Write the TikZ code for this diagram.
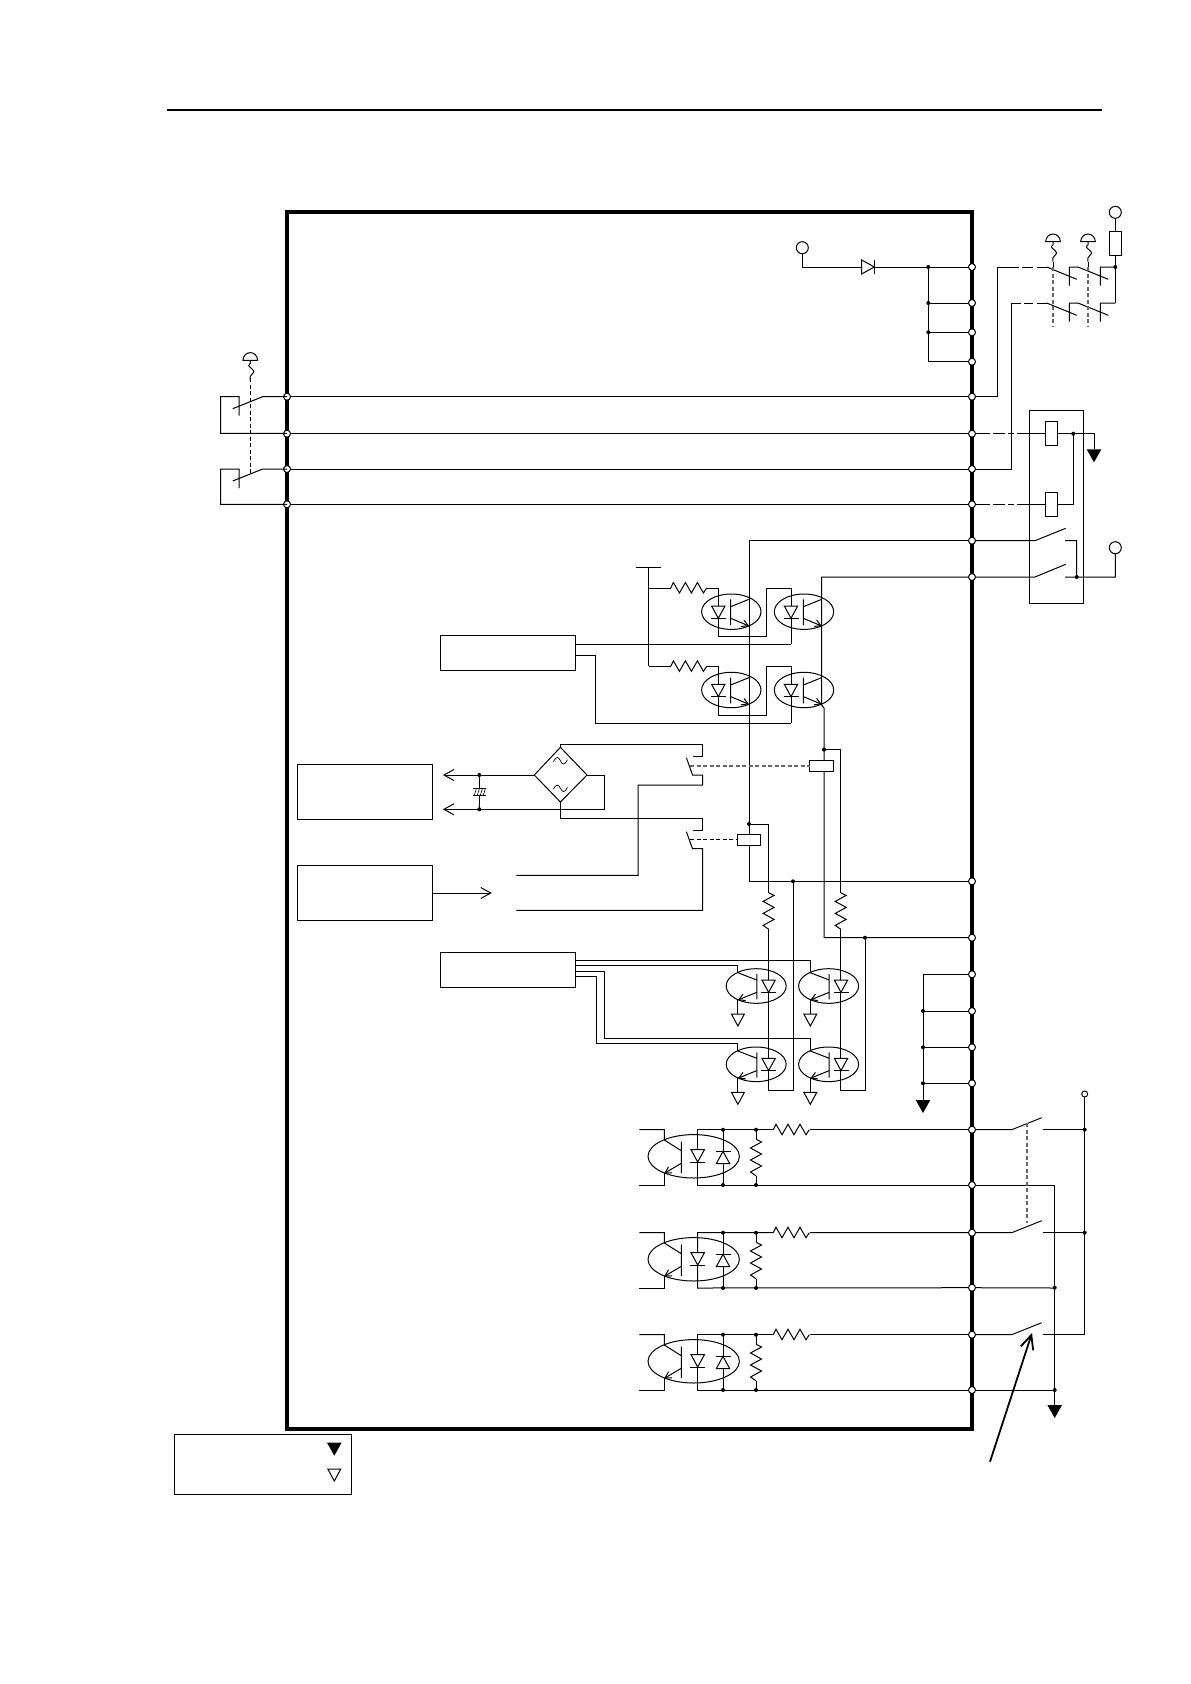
\documentclass[tikz,border=0pt]{standalone}
\usetikzlibrary{arrows.meta}
\tikzset{
	term/.style={circle,draw,fill=white,inner sep=0pt,minimum size=7pt,line width=1pt},
	port/.style={circle,draw,fill=white,inner sep=0pt,minimum size=12pt},
	block/.style={draw,inner sep=0pt},
	arw/.style={-{Straight Barb[length=10pt,width=11pt]}},
	emit/.style={-{Straight Barb[length=6pt,width=7pt]}},
	link/.style={dashed,dash pattern=on 4pt off 2.5pt,line width=1.1pt,black!60},
	hres/.pic={\draw (0,0)--(2.7,-5.5)--(8.7,5)--(14.7,-5.5)--(20.7,5)--(26.7,-5.5)--(32.7,5)--(36,0);},
	vres/.pic={\draw (0,0)--(5.5,2.7)--(-5.5,8.7)--(5.5,14.7)--(-5.5,20.7)--(5.5,26.7)--(-5.5,32.7)--(0,36.5);},
	diod/.pic={\draw[fill=white] (-6.7,0)--(6.7,0)--(0,12.3)--cycle; \draw (-7.5,12.3)--(7.5,12.3);},
	diou/.pic={\draw[fill=white] (-6.7,12.3)--(6.7,12.3)--(0,0)--cycle; \draw (-7.5,0)--(7.5,0);},
	knob/.pic={\draw (-7.3,0) arc (180:360:7.3 and 7.7) -- cycle;
		\draw[smooth] plot coordinates {(0,0) (0,3) (-1.5,5.5) (3.5,11) (0,16) (0,20)};},
	wave/.pic={\draw[line width=0.7pt] (-7,1) .. controls (-4,-5) and (-2,-4) .. (0,0) .. controls (2,4) and (4,5) .. (7,-1);},
	gnd/.pic={\draw[fill=white] (-6.5,0)--(6.5,0)--(0,12)--cycle;},
	gndf/.pic={\fill (-7.3,0)--(7.3,0)--(0,13)--cycle;}
}
\begin{document}
\begin{tikzpicture}[x=1pt,y=-1pt,line width=1pt]
	\useasboundingbox (0,0) rectangle (1191,1684);
	\draw[line width=1.8pt] (167,110)--(1102,110);
	\draw[line width=4pt] (287,212) rectangle (972,1429);
	%terminals on both sides of the frame
	\foreach \n/\y in {1/267,2/303,3/332.3,4/361.7,5/396.7,6/433.7,7/469,8/504.3,9/540.7,10/577,11/881.3,12/937.7,13/974.3,14/1011,15/1047.3,16/1083.3,17/1129.7,18/1185,19/1232.7,20/1287.7,21/1334.7,22/1390}
	\node[term] (r\n) at (972,\y) {};
	\foreach \n/\y in {1/396.7,2/433.7,3/469,4/504.3}
	\node[term] (l\n) at (287,\y) {};
	\foreach \a/\b in {1/5,2/6,3/7,4/8}
	\draw (l\a)--(r\b);
	%supply and series switches
	\node[port] (vcc) at (802.3,247.7) {};
	\draw (vcc)--(802.3,267)--(861.7,267);
	\draw[fill=white] (861.7,260)--(874.3,267)--(861.7,274)--cycle;
	\draw (874.3,260)--(874.3,274) (874.3,267)--(r1);
	\draw (928.3,267)--(928.3,361.7)--(r4);
	\draw (928.3,303)--(r2) (928.3,332.3)--(r3);
	\foreach \x/\y in {928.3/267,928.3/303,928.3/332.3,1115.3/267,1073.3/433.7,1076.7/577,793/881.3,865/937.7,923/1011,923/1047.3,923/1083.3,749/824,824/749.7,479.3/775,479.3/809.3,1084.7/1129.7,1084.7/1232.7,1054.7/1287.7,1054.7/1390}
	\fill (\x,\y) circle (2);
	\draw (r5)--(997,396.7)--(997,267)--(1019,267) (1021.5,267)--(1033,267) (1037,267)--(1046.7,267);
	\draw (r7)--(1011.7,469)--(1011.7,303)--(1021,303) (1024,303)--(1033,303) (1037,303)--(1046.7,303);
	\foreach \y in {267,303}
	\draw[shift={(0,\y)}] (1046.7,0)--(1076.7,12.3) (1069.3,18.7)--(1069.3,0)--(1078,0)--(1108.3,12.3) (1100.3,18.7)--(1100.3,0)--(1115.3,0);
	\foreach \x in {1053,1088} {
		\pic at (\x,241.7) {knob};
		\draw (\x,261.7)--(\x,267);
		\draw[link] (\x,267)--(\x,326);
	}
	\node[port] (vtop) at (1115.3,212.3) {};
	\draw[fill=white] (1109.5,231.7) rectangle (1121.3,255);
	\draw (vtop)--(1115.3,231.7) (1115.3,255)--(1115.3,303);
	%relay unit
	\draw (1029.3,410.7) rectangle (1083.7,603.7);
	\draw (1045.7,421.3) rectangle (1057.3,445);
	\draw (1045.7,492.3) rectangle (1057.3,516.3);
	\draw (r6)--(990,433.7) (993,433.7)--(1005,433.7) (1008,433.7)--(1014,433.7) (1017,433.7)--(1045.7,433.7);
	\draw (r8)--(990,504.3) (993,504.3)--(1005,504.3) (1008,504.3)--(1014,504.3) (1017,504.3)--(1045.7,504.3);
	\draw (1057.3,433.7)--(1094,433.7)--(1094,449.3);
	\draw (1057.3,504.3)--(1073.3,504.3)--(1073.3,433.7);
	\pic at (1094,449.3) {gndf};
	\draw (r9)--(1035,540.7)--(1065.7,528.3) (1065,540.7)--(1076.7,540.7)--(1076.7,577);
	\node[port] (vrel) at (1115.3,547.7) {};
	\draw (r10)--(1035,577)--(1065.7,564.3) (1065,577)--(1115.3,577)--(vrel);
	%switch on the left
	\pic at (250.3,360.3) {knob};
	\draw[dashed,dash pattern=on 4pt off 2.5pt] (250.3,378)--(250.3,474);
	\foreach \y/\b in {396.7/36.7,469/35.3}
	\draw[shift={(0,\y)}] (287,0)--(262.7,0)--(232.7,12) (239,19)--(239,0)--(220.7,0)--(220.7,\b)--(287,\b);
	%upper couplers and drive block
	\node[block,minimum width=134.6pt,minimum height=34.3pt] (drva) at (508,652.85) {};
	\draw (648.7,567)--(648.7,666.3) (636,567)--(661,567);
	\foreach \y/\b/\s in {588/644.3/636.3,666.3/723/715.3} {
		\draw (648.7,\y)--(670.7,\y) (706.7,\y)--(718.3,\y)--(718.3,\s)--(766.7,\s)--(766.7,\y)--(791,\y)--(791,\b);
		\pic at (670.7,\y) {hres};
	}
	\draw (drva.east |- 0,644.3)--(791,644.3);
	\draw (drva.east |- 0,655.7)--(595.7,655.7)--(595.7,723)--(791,723);
	\foreach \x/\y in {718.3/588,791/588,718.3/666.3,791/666.3} {
		\begin{scope}[shift={(\x,\y)}]
			\pic at (0,18) {diod};
			\draw (13,23.7) ellipse [x radius=29.7,y radius=17.7];
			\draw (12.4,11.3)--(12.4,37) (12.4,18.7)--(30.7,11.3);
			\draw[emit] (12.4,30.3)--(30.7,38);
		\end{scope}
	}
	%main wires through the couplers and coils
	\draw (r9)--(749,540.7)--(749,881.3)--(r11);
	\draw (r10)--(821.7,577)--(821.7,705)--(824,708)--(824,937.7)--(r12);
	\draw (749,824)--(768.6,824)--(768.6,892.7) (768.6,929.3)--(768.6,1090)--(793,1090)--(793,881.3);
	\draw (824,749.7)--(840.7,749.7)--(840.7,892.7) (840.7,929.3)--(840.7,1090)--(865,1090)--(865,937.7);
	\pic at (768.6,892.7) {vres};
	\pic at (840.7,892.7) {vres};
	\draw[fill=white] (737.3,834) rectangle (760.7,845.3);
	\draw[fill=white] (809.6,760.3) rectangle (833.6,771.7);
	\draw[link] (690,766)--(809.6,766);
	\draw[dashed,dash pattern=on 4pt off 2.5pt] (690,839.3)--(737.3,839.3);
	%bridge and its contacts
	\draw (534.3,775)--(560.4,747.3)--(587,775)--(560.4,802)--cycle;
	\pic at (560.4,760.7) {wave};
	\pic at (560.4,788.3) {wave};
	\node[block,minimum width=134.1pt,minimum height=55pt] (psu) at (365,791.8) {};
	\node[block,minimum width=134.1pt,minimum height=54.6pt] (ref) at (365,893) {};
	\draw[arw] (534.3,775)--(442.9,775);
	\draw[arw] (604.6,775)--(604.6,809.3)--(442.9,809.3);
	\draw (479.3,775)--(479.3,788.7) (479.3,795.3)--(479.3,809.3);
	\draw (472.8,788.7)--(485.8,788.7) (472.8,795.3)--(485.8,795.3);
	\foreach \x in {-5,-2,1,4}
	\draw[line width=0.6pt,shift={(479.3,0)}] (\x,795.3)--({\x+2},788.7);
	\draw (587,775)--(604.6,775);
	\draw (560.4,747.3)--(560.4,744)--(702.5,744)--(702.5,756)--(692.5,756);
	\draw (686.4,757.7)--(692.5,775)--(702.5,775)--(702.5,785)--(638.2,785)--(638.2,875.3)--(516.4,875.3);
	\draw (560.4,802)--(560.4,818.3)--(702.5,818.3)--(702.5,830)--(692.5,830);
	\draw (686.4,831.7)--(692.5,848.7)--(702.5,848.7)--(702.5,910.3)--(516.4,910.3);
	\draw[arw] (ref.east)--(491.8,893);
	%lower couplers and their block
	\node[block,minimum width=134.7pt,minimum height=34.7pt] (drvb) at (508,969.65) {};
	\foreach \x/\y in {768.6/986,841/986,768.6/1064.3,841/1064.3} {
		\begin{scope}[shift={(\x,\y)}]
			\pic at (0,-6) {diod};
			\draw (-12.4,0) ellipse [x radius=30,y radius=17.3];
			\draw (-11.8,-12)--(-11.8,13.3) (-11.8,-6)--(-30.7,-13.3);
			\draw[emit] (-11.8,6.3)--(-30.7,14);
			\draw (-30.7,14)--(-30.7,28);
			\pic at (-30.7,28) {gnd};
		\end{scope}
	}
	\draw (drvb.east |- 0,965)--(737.9,965)--(737.9,972.7);
	\draw (drvb.east |- 0,960)--(810.3,960)--(810.3,972.7);
	\draw (drvb.east |- 0,976.7)--(596.4,976.7)--(596.4,1043.7)--(737.9,1043.7)--(737.9,1051);
	\draw (drvb.east |- 0,971.7)--(604.3,971.7)--(604.3,1038.3)--(810.3,1038.3)--(810.3,1051);
	%return terminals
	\draw (r13)--(923,974.3)--(923,1100);
	\draw (r14)--(923,1011) (r15)--(923,1047.3) (r16)--(923,1083.3);
	\pic at (923,1100) {gndf};
	%input couplers at the bottom
	\foreach \a/\b/\d in {17/18/0,19/20/103,21/22/205} {
		\draw (r\a)--(1011.7,1129.7+\d)--(1041.7,1117.7+\d);
		\draw (r\b)--(1054.7,1185+\d);
		\begin{scope}[shift={(0,\d)}]
			\draw (r\a)--(810,1129.7) (773.3,1129.7)--(697.7,1129.7)--(697.7,1185)--(r\b);
			\pic at (773.3,1129.7) {hres};
			\draw (723,1129.7)--(723,1185);
			\draw (756,1129.7)--(756,1139.3) (756,1175.7)--(756,1185);
			\pic at (756,1139.3) {vres};
			\pic at (697.7,1149.7) {diod};
			\pic at (723,1151.3) {diou};
			\foreach \x in {723,756} {
				\fill (\x,1129.7) circle (2);
				\fill (\x,1185) circle (2);
			}
			\draw (693.7,1156.3) ellipse [x radius=45.7,y radius=21.7];
			\draw (681.3,1141.7)--(681.3,1173) (681.3,1150.7)--(664.3,1140)--(664.3,1129.7)--(639.3,1129.7);
			\draw[emit] (681.3,1163.3)--(664.3,1173.3);
			\draw (664.3,1173.3)--(664.3,1185)--(639.3,1185);
		\end{scope}
	}
	\draw[link] (1027,1123)--(1027,1223);
	\draw (1054.7,1185)--(1054.7,1405);
	\pic at (1054.7,1405) {gndf};
	\node[term,minimum size=6pt,line width=0.9pt] (vin) at (1084.7,1094) {};
	\draw (vin)--(1084.7,1334.7)--(1043.3,1334.7);
	\draw (1043.3,1129.7)--(1084.7,1129.7) (1043.3,1232.7)--(1084.7,1232.7);
	\draw[line width=1.8pt,-{Straight Barb[length=14pt,width=13pt]}] (990,1461.7)--(1032,1333);
	%legend
	\draw (174.3,1434.3) rectangle (351.7,1494.3);
	\pic at (334.3,1442.7) {gndf};
	\pic at (334.3,1469) {gnd};
\end{tikzpicture}
\end{document}
